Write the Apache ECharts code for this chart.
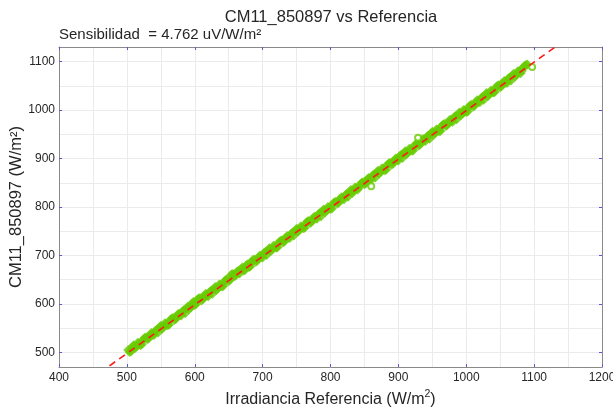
<!DOCTYPE html>
<html>
<head>
<meta charset="utf-8">
<script src="https://cdn.jsdelivr.net/npm/echarts@6/dist/echarts.min.js"></script>
<style>
html,body{margin:0;padding:0;background:#fff;}
#c{width:613px;height:408px;}
</style>
</head>
<body>
<div id="c"></div>
<script>
// ---- data ----
var refX = [502,506,510,514,518,522,526,530,534,538,542,546,550,554,558,562,566,570,574,578,582,586,590,594,598,602,606,610,614,618,622,626,630,634,638,642,646,650,654,658,662,666,670,674,678,682,686,690,694,698,702,706,710,714,718,722,726,730,734,738,742,746,750,754,758,762,766,770,774,778,782,786,790,794,798,802,806,810,814,818,822,826,830,834,838,842,846,850,854,858,862,866,870,874,878,882,886,890,894,898,902,906,910,914,918,922,926,930,934,938,942,946,950,954,958,962,966,970,974,978,982,986,990,994,998,1002,1006,1010,1014,1018,1022,1026,1030,1034,1038,1042,1046,1050,1054,1058,1062,1066,1070,1074,1078,1082,1086,1090];
var sensorY = [505,502,515,512,519,517,530,527,536,537,545,541,555,552,559,557,570,567,576,577,585,581,595,592,604,600,612,607,616,617,625,621,635,632,639,637,650,647,661,657,666,663,675,670,682,678,691,687,696,697,705,701,715,712,719,717,730,727,736,737,745,741,755,752,759,757,770,767,776,777,785,781,795,792,799,797,810,807,816,817,825,821,835,832,839,840,850,847,856,857,865,861,875,872,879,877,890,887,896,897,905,901,915,912,919,917,930,927,936,937,945,941,955,952,959,957,970,967,976,977,985,981,995,992,999,997,1010,1007,1016,1017,1025,1021,1035,1032,1039,1037,1050,1047,1056,1057,1065,1061,1075,1072,1080,1081,1091,1094];
var refX2 = [504,508,512,516,520,524,528,532,536,540,544,548,552,556,560,564,568,572,576,580,584,588,592,596,600,604,608,612,616,620,624,628,632,636,640,644,648,652,656,660,664,668,672,676,680,684,688,692,696,700,704,708,712,716,720,724,728,732,736,740,744,748,752,756,760,764,768,772,776,780,784,788,792,796,800,804,808,812,816,820,824,828,832,836,840,844,848,852,856,860,864,868,872,876,880,884,888,892,896,900,904,908,912,916,920,924,928,932,936,940,944,948,952,956,960,964,968,972,976,980,984,988,992,996,1000,1004,1008,1012,1016,1020,1024,1028,1032,1036,1040,1044,1048,1052,1056,1060,1064,1068,1072,1076,1080,1084,1088];
var sensorY2 = [501,511,509,520,515,526,531,529,540,536,547,551,549,560,556,567,571,569,580,576,587,591,590,601,598,609,612,610,621,616,627,631,629,640,636,647,651,650,662,658,668,671,669,680,676,687,691,689,700,696,707,711,709,720,716,727,731,729,740,736,747,751,749,760,756,767,771,769,780,776,787,791,789,800,796,807,811,809,820,816,827,831,829,840,836,847,851,849,860,856,867,871,869,880,876,887,891,889,900,896,907,911,909,920,916,927,931,929,940,936,947,951,949,960,956,967,971,969,980,976,987,991,989,1000,996,1007,1011,1009,1020,1016,1027,1031,1029,1040,1036,1047,1051,1049,1060,1056,1067,1071,1069,1080,1076,1088,1093];
var outlierX = [860, 929, 1097];
var outlierY = [843, 943, 1089];
var fitX = [460, 1140];
var fitY = [458, 1139];
var xTicks = [400,500,600,700,800,900,1000,1100,1200];
var yTicks = [500,600,700,800,900,1000,1100];
var yGrid = [500,550,600,650,700,750,800,850,900,950,1000,1050,1100];

var titleText = 'CM11_850897 vs Referencia';
var subText = 'Sensibilidad  = 4.762 uV/W/m²';

function pairs(a, b){ var r=[]; for (var i=0;i<a.length;i++) r.push([a[i], b[i]]); return r; }

var FONT = '"Liberation Sans", Arial, sans-serif';
var TXT = '#262626';
var TICK = '#5a5ad6';
var AXIS = '#8a8a8a';
var GRIDC = '#ebebeb';
var GREEN = '#66cc00';

var chart = echarts.init(document.getElementById('c'), null, {renderer:'canvas'});
chart.setOption({
  animation: false,
  backgroundColor: '#ffffff',
  textStyle: {fontFamily: FONT},
  title: [
    {text: titleText, left: 331, textAlign: 'center', top: 9, padding: 0,
     textStyle: {fontFamily: FONT, fontSize: 16.5, fontWeight: 'normal', color: TXT}},
    {text: subText, left: 59, top: 27, padding: 0,
     textStyle: {fontFamily: FONT, fontSize: 15, fontWeight: 'normal', color: TXT}}
  ],
  grid: {left: 59, right: 11, top: 47, bottom: 41, containLabel: false, outerBoundsMode: 'none'},
  xAxis: [
    {type: 'value', min: 400, max: 1200, interval: 100, position: 'bottom',
     axisLine: {show: true, onZero: false, lineStyle: {color: AXIS, width: 1}},
     axisTick: {show: true, inside: true, length: 3, lineStyle: {color: TICK}},
     axisLabel: {color: TXT, fontSize: 12, fontFamily: FONT, margin: 5,
       formatter: function(v){ return xTicks.indexOf(v) >= 0 ? String(v) : ''; }},
     splitLine: {show: true, lineStyle: {color: GRIDC, width: 1}},
     minorTick: {show: false, splitNumber: 2},
     minorSplitLine: {show: true, lineStyle: {color: GRIDC, width: 1}},
     name: '{n|Irradiancia Referencia (W/m}{s|2}{n|)}',
     nameLocation: 'middle', nameGap: 18,
     nameTextStyle: {rich: {
       n: {fontSize: 16, color: TXT, fontFamily: FONT, verticalAlign: 'bottom', lineHeight: 19},
       s: {fontSize: 10.5, color: TXT, fontFamily: FONT, verticalAlign: 'top', lineHeight: 19, padding: [0,0,7,0]}
     }}},
    {type: 'value', min: 400, max: 1200, interval: 100, position: 'top',
     axisLine: {show: true, onZero: false, lineStyle: {color: AXIS, width: 1}},
     axisTick: {show: true, inside: true, length: 3, lineStyle: {color: TICK}},
     axisLabel: {show: false}, splitLine: {show: false}}
  ],
  yAxis: [
    {type: 'value', min: 470, max: 1130, position: 'left',
     axisLine: {show: true, onZero: false, lineStyle: {color: AXIS, width: 1}},
     axisTick: {show: true, inside: true, length: 3, customValues: yTicks, lineStyle: {color: TICK}},
     axisLabel: {color: TXT, fontSize: 12, fontFamily: FONT, margin: 4, customValues: yTicks,
       formatter: function(v){ return String(v); }},
     splitLine: {show: false},
     name: 'CM11_850897 (W/m²)', nameLocation: 'middle', nameGap: 34, nameRotate: 90,
     nameMoveOverlap: false,
     nameTextStyle: {fontSize: 16.5, color: TXT, fontFamily: FONT}},
    {type: 'value', min: 470, max: 1130, position: 'right',
     axisLine: {show: true, onZero: false, lineStyle: {color: AXIS, width: 1}},
     axisTick: {show: true, inside: true, length: 3, customValues: yTicks, lineStyle: {color: TICK}},
     axisLabel: {show: false}, splitLine: {show: false}}
  ],
  series: [
    {type: 'line', data: [], silent: true, z: 0,
     markLine: {silent: true, symbol: 'none', label: {show: false}, z: 0,
       lineStyle: {color: GRIDC, width: 1, type: 'solid'}, animation: false,
       data: yGrid.map(function(v){ return {yAxis: v}; })}},
    {type: 'scatter', data: pairs(refX, sensorY), symbol: 'diamond', symbolSize: 10,
     itemStyle: {color: GREEN}, z: 10},
    {type: 'scatter', data: pairs(refX2, sensorY2), symbol: 'diamond', symbolSize: 10,
     itemStyle: {color: GREEN}, z: 10},
    {type: 'scatter', data: pairs(outlierX, outlierY), symbol: 'emptyCircle', symbolSize: 6,
     itemStyle: {color: GREEN, borderColor: GREEN, borderWidth: 1}, z: 10},
    {type: 'line', data: pairs(fitX, fitY), symbol: 'none', clip: true,
     lineStyle: {color: '#ff1a1a', width: 1.6, type: [7, 5]}, z: 12}
  ]
});
</script>
</body>
</html>
